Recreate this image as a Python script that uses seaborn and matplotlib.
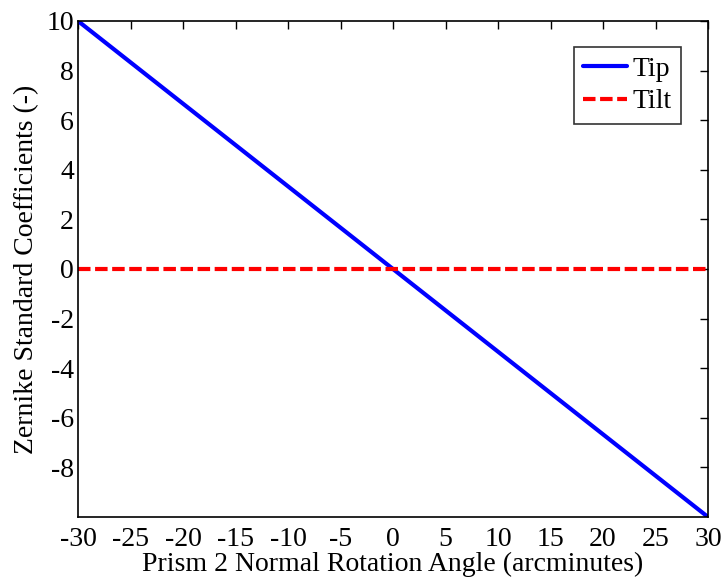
import numpy as np
import pandas as pd
import matplotlib
matplotlib.use("Agg")
import matplotlib.pyplot as plt
import seaborn as sns

# Rotation angle endpoints (arcminutes) and the fitted Zernike coefficients
angle = [-30, 30]
tip = [10, -10]
tilt = [0, 0]

df = pd.DataFrame({
    "angle": angle * 2,
    "coef": tip + tilt,
    "term": ["Tip"] * len(angle) + ["Tilt"] * len(angle),
})

sns.set_style("white")
plt.rcParams["font.family"] = ["Liberation Serif", "DejaVu Serif"]
plt.rcParams.update({
    "text.color": "black",
    "axes.labelcolor": "black",
    "xtick.color": "black",
    "ytick.color": "black",
})

FS = 20
DASH = (3.0, 1.1)

fig = plt.figure(figsize=(7.24, 5.83), dpi=100)
ax = fig.add_axes([78 / 724, 1 - 517 / 583, (708 - 78) / 724, (517 - 21) / 583])

sns.lineplot(data=df, x="angle", y="coef", hue="term", style="term",
             palette={"Tip": "#0000ff", "Tilt": "#ff0000"},
             dashes={"Tip": "", "Tilt": DASH},
             linewidth=3, ax=ax, legend=False)

ax.set_xlim(-30, 30)
ax.set_ylim(-10, 10)
ax.set_xticks(np.arange(-30, 31, 5))
ax.set_yticks(np.arange(-8, 11, 2))
ax.set_xticklabels([f"{v:d}" for v in range(-30, 31, 5)])
ax.set_yticklabels([f"{v:d}" for v in range(-8, 11, 2)])
ax.tick_params(direction="in", length=6, width=1, labelsize=FS,
               top=True, right=True)
ax.tick_params(axis="x", pad=7)
ax.tick_params(axis="y", pad=3)
for s in ax.spines.values():
    s.set_visible(True)
    s.set_color("black")
    s.set_linewidth(1.2)

ax.set_xlabel("Prism 2 Normal Rotation Angle (arcminutes)", fontsize=FS, labelpad=0)
ax.set_ylabel("Zernike Standard Coefficients (-)", fontsize=FS, labelpad=5)

handles = [plt.Line2D([], [], color="#0000ff", lw=3),
           plt.Line2D([], [], color="#ff0000", lw=3, dashes=DASH)]
leg = ax.legend(handles, ["Tip", "Tilt"], loc="upper right",
                bbox_to_anchor=(0.957, 0.948), fontsize=FS, frameon=True,
                fancybox=False, edgecolor="black", handlelength=1.55,
                handletextpad=0.2, borderpad=0.35, labelspacing=0.25,
                borderaxespad=0)
leg.get_frame().set_linewidth(1.2)

ax.grid(False)
fig.savefig("out.png", dpi=100)
